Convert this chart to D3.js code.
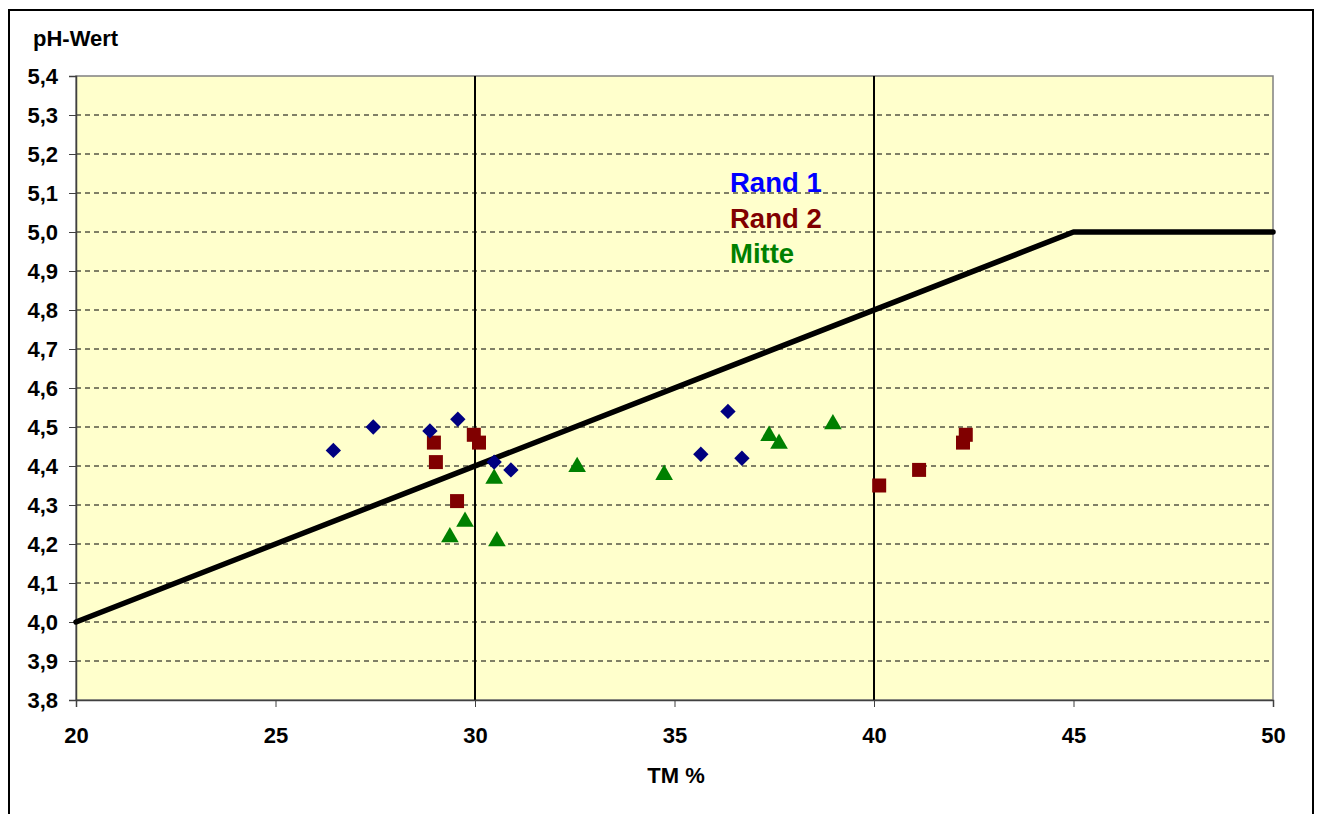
<!DOCTYPE html>
<html>
<head>
<meta charset="utf-8">
<script src="https://cdn.jsdelivr.net/npm/d3@7"></script>
<style>
  body { margin: 0; background: #fff; }
  svg { display: block; }
  text { font-family: "Liberation Sans", Arial, sans-serif; font-weight: bold; }
</style>
</head>
<body>
<div id="chart"></div>
<script>
'use strict'

// data
const rand1X = [26.45, 27.45, 28.87, 29.57, 30.48, 30.9, 35.66, 36.34, 36.69]
const rand1Y = [4.44, 4.50, 4.49, 4.52, 4.41, 4.39, 4.43, 4.54, 4.42]

const rand2X = [28.97, 29.02, 29.55, 29.97, 30.1, 40.13, 41.13, 42.23, 42.3]
const rand2Y = [4.46, 4.41, 4.31, 4.48, 4.46, 4.35, 4.39, 4.46, 4.48]

const mitteX = [29.37, 29.75, 30.48, 30.55, 32.56, 34.74, 37.37, 37.62, 38.97]
const mitteY = [4.22, 4.26, 4.37, 4.21, 4.40, 4.38, 4.48, 4.46, 4.51]

const limitX = [20, 45, 50]
const limitY = [4.0, 5.0, 5.0]

const markerX = [30, 40]

const xTicks = [20, 25, 30, 35, 40, 45, 50]
const yTicks = [3.8, 3.9, 4.0, 4.1, 4.2, 4.3, 4.4, 4.5, 4.6, 4.7, 4.8, 4.9, 5.0, 5.1, 5.2, 5.3, 5.4]

const legendLabels = ['Rand 1', 'Rand 2', 'Mitte']
const legendColors = ['#0000FF', '#800000', '#008000']

////////////////////////////////////
//////////// svg setup /////////////
////////////////////////////////////

const svgWidth = 1318
const svgHeight = 814
const margin = { left: 76, right: 45, top: 76, bottom: 114 }
const width = svgWidth - margin.left - margin.right
const height = svgHeight - margin.top - margin.bottom

const root = d3.select('#chart').append('svg')
    .attr('width', svgWidth)
    .attr('height', svgHeight)

// outer chart frame (runs off the bottom of the picture)
root.append('rect')
    .attr('x', 9).attr('y', 10)
    .attr('width', 1304).attr('height', 830)
    .attr('fill', '#fff')
    .attr('stroke', '#000')
    .attr('stroke-width', 2)

const svg = root.append('g')
    .attr('transform', `translate(${margin.left},${margin.top})`)

////////////////////////////////////
//////////////scales////////////////
////////////////////////////////////

const xScale = d3.scaleLinear().domain([20, 50]).range([0, width])
const yScale = d3.scaleLinear().domain([3.8, 5.4]).range([height, 0])

// plot area
svg.append('rect')
    .attr('width', width).attr('height', height)
    .attr('fill', '#FFFFCC')
    .attr('stroke', '#808080')
    .attr('stroke-width', 1.5)

// dashed grid
svg.append('g')
    .selectAll('line')
    .data(yTicks.filter(d => d > 3.8 && d < 5.4))
    .enter()
    .append('line')
    .attr('x1', 0).attr('x2', width)
    .attr('y1', d => yScale(d)).attr('y2', d => yScale(d))
    .attr('stroke', '#000')
    .attr('stroke-width', 1)
    .attr('stroke-dasharray', '5,4')

// vertical marks at 30 and 40
svg.append('g')
    .selectAll('line')
    .data(markerX)
    .enter()
    .append('line')
    .attr('x1', d => xScale(d)).attr('x2', d => xScale(d))
    .attr('y1', 0).attr('y2', height)
    .attr('stroke', '#000')
    .attr('stroke-width', 2)

// axes
const fmt = d => d3.format('.1f')(d).replace('.', ',')

const yAxis = svg.append('g')
    .call(d3.axisLeft(yScale).tickValues(yTicks).tickSize(7).tickPadding(11).tickFormat(fmt))
yAxis.select('.domain').attr('stroke', '#404040').attr('stroke-width', 1.5)
yAxis.selectAll('.tick line').attr('stroke', '#404040')
yAxis.selectAll('.tick text')
    .attr('font-size', 22)
    .attr('font-family', '"Liberation Sans", Arial, sans-serif')
    .attr('font-weight', 'bold')
    .attr('fill', '#000')
    .attr('dy', '0.33em')

const xAxis = svg.append('g')
    .attr('transform', `translate(0,${height})`)
    .call(d3.axisBottom(xScale).tickValues(xTicks).tickSize(7).tickPadding(20).tickFormat(d3.format('d')))
xAxis.select('.domain').attr('stroke', '#404040').attr('stroke-width', 1.5)
xAxis.selectAll('.tick line').attr('stroke', '#404040')
xAxis.selectAll('.tick text')
    .attr('font-size', 22)
    .attr('font-family', '"Liberation Sans", Arial, sans-serif')
    .attr('font-weight', 'bold')
    .attr('fill', '#000')

// axis titles
root.append('text')
    .attr('x', 33).attr('y', 46)
    .attr('font-size', 22)
    .text('pH-Wert')

root.append('text')
    .attr('x', 676).attr('y', 783)
    .attr('text-anchor', 'middle')
    .attr('font-size', 22)
    .text('TM %')

// limit line
const limit = limitX.map((x, i) => ({ x: x, y: limitY[i] }))
svg.append('path')
    .datum(limit)
    .attr('d', d3.line().x(d => xScale(d.x)).y(d => yScale(d.y)))
    .attr('fill', 'none')
    .attr('stroke', '#000')
    .attr('stroke-width', 5.5)
    .attr('stroke-linejoin', 'round')
    .attr('stroke-linecap', 'round')

// points
const rand1 = rand1X.map((x, i) => ({ x: x, y: rand1Y[i] }))
const rand2 = rand2X.map((x, i) => ({ x: x, y: rand2Y[i] }))
const mitte = mitteX.map((x, i) => ({ x: x, y: mitteY[i] }))

svg.append('g').selectAll('path')
    .data(rand2)
    .enter()
    .append('path')
    .attr('d', d3.symbol().type(d3.symbolSquare).size(196))
    .attr('transform', d => `translate(${xScale(d.x)},${yScale(d.y)})`)
    .attr('fill', '#800000')

svg.append('g').selectAll('path')
    .data(mitte)
    .enter()
    .append('path')
    .attr('d', d3.symbol().type(d3.symbolTriangle).size(135))
    .attr('transform', d => `translate(${xScale(d.x)},${yScale(d.y) + 1})`)
    .attr('fill', '#008000')

svg.append('g').selectAll('path')
    .data(rand1)
    .enter()
    .append('path')
    .attr('d', d3.symbol().type(d3.symbolSquare).size(118))
    .attr('transform', d => `translate(${xScale(d.x)},${yScale(d.y)}) rotate(45)`)
    .attr('fill', '#000080')

// legend text
root.append('g').selectAll('text')
    .data(legendLabels)
    .enter()
    .append('text')
    .attr('x', 730)
    .attr('y', (d, i) => 192 + i * 35.5)
    .attr('font-size', 27.5)
    .attr('fill', (d, i) => legendColors[i])
    .text(d => d)
</script>
</body>
</html>
